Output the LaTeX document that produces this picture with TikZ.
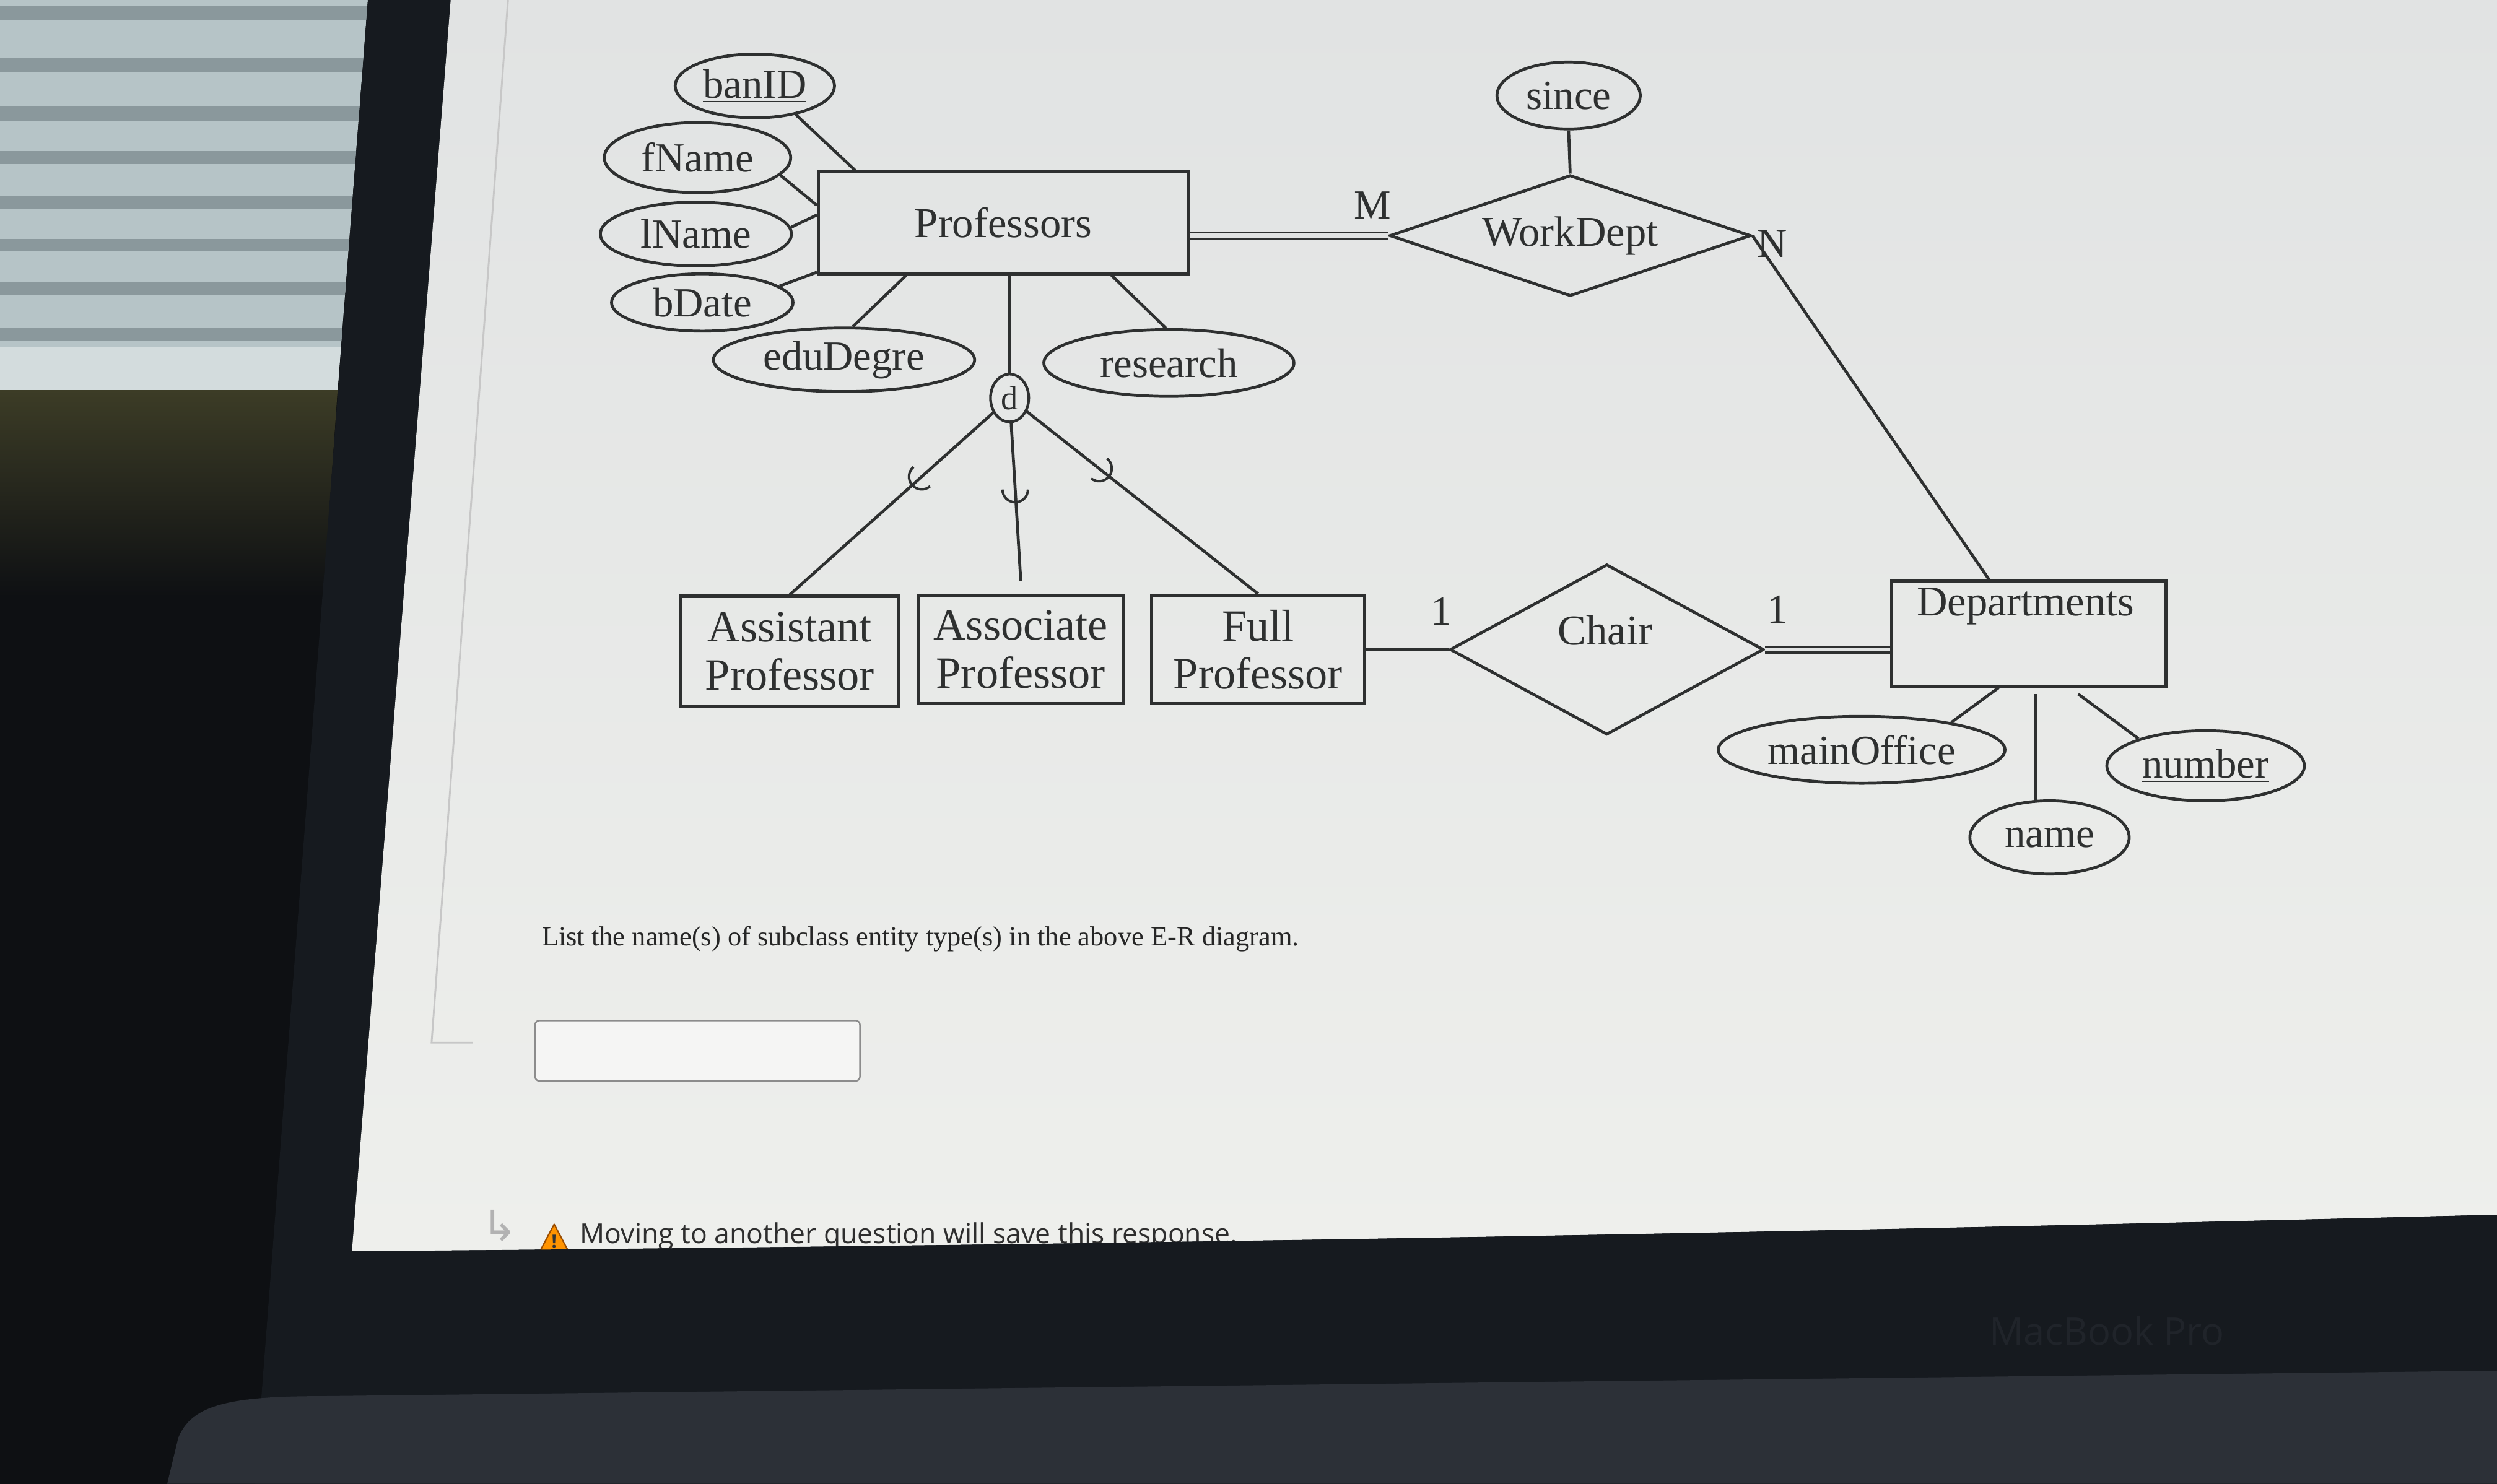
\documentclass[tikz,border=0pt]{standalone}
\usepackage{fontspec}
\setmainfont{Liberation Serif}
\newfontfamily\questionfont{Liberation Serif}
\newfontfamily\notefont{Open Sans}
\newfontfamily\symbolfont{DejaVu Sans}
\usetikzlibrary{arrows.meta,shapes.geometric,calc}

\definecolor{ink}{RGB}{46,48,48}
\definecolor{bezel}{RGB}{22,26,31}
\definecolor{roomdark}{RGB}{14,16,19}
\definecolor{screentop}{RGB}{225,227,227}
\definecolor{screenbot}{RGB}{238,239,236}
\definecolor{blindlight}{RGB}{182,196,199}
\definecolor{blinddark}{RGB}{138,152,156}
\definecolor{olive}{RGB}{60,60,38}
\definecolor{laptop}{RGB}{44,48,55}
\definecolor{brandgray}{RGB}{32,36,42}

\tikzset{
  entity/.style={rectangle, draw=ink, line width=1.4pt, inner sep=0pt, text=ink, align=center, font=\fontsize{19}{22}\selectfont},
  attrib/.style={ellipse, draw=ink, line width=1.3pt, inner sep=0pt, text=ink, font=\fontsize{18.5}{21}\selectfont},
  relship/.style={diamond, draw=ink, line width=1.3pt, inner sep=0pt, text=ink, font=\fontsize{19}{22}\selectfont},
  cardlabel/.style={inner sep=0pt, text=ink, font=\fontsize{18.5}{21}\selectfont},
  subclass/.style={entity, font=\fontsize{20}{21.5}\selectfont},
  link/.style={draw=ink, line width=1.3pt},
  total/.style={draw=ink, line width=0.9pt, double=screentop, double distance=1.8pt},
}

\begin{document}
\begin{tikzpicture}[x=0.025cm,y=-0.025cm]
\useasboundingbox (0,0) rectangle (1568,932);

% room, blinds and laptop frame
\fill[roomdark] (0,0) rectangle (1568,932);
\shade[top color=olive, bottom color=roomdark] (0,245) -- (212,245) -- (203,375) -- (0,375) -- cycle;
\begin{scope}
\clip (0,0) -- (231,0) -- (212,245) -- (0,245) -- cycle;
\fill[blindlight] (0,0) rectangle (240,245);
\fill[blinddark] (0,4) rectangle (240,13);
\fill[blinddark] (0,36) rectangle (240,45);
\fill[blinddark] (0,67) rectangle (240,76);
\fill[blinddark] (0,95) rectangle (240,103);
\fill[blinddark] (0,123) rectangle (240,131);
\fill[blinddark] (0,150) rectangle (240,158);
\fill[blinddark] (0,177) rectangle (240,185);
\fill[blinddark] (0,206) rectangle (240,214);
\fill[blindlight!60!white] (0,218) rectangle (240,245);
\end{scope}
\fill[bezel] (231,0) -- (1568,0) -- (1568,932) -- (160,932) -- cycle;
\shade[top color=screentop, bottom color=screenbot] (283,0) -- (1568,0) -- (1568,763)
  .. controls (1100,775) and (700,782) .. (221,786) -- cycle;
\draw[black!22, line width=0.8pt] (319,0) -- (271,655) -- (297,655);

% entities
\node[entity, minimum width=5.8cm, minimum height=1.6cm] (prof) at (630,140) {Professors};
\node[subclass, minimum width=3.425cm, minimum height=1.725cm] (asst) at (496,409) {Assistant\\Professor};
\node[subclass, minimum width=3.225cm, minimum height=1.7cm] (assoc) at (641,408) {Associate\\Professor};
\node[subclass, minimum width=3.35cm, minimum height=1.7cm] (full) at (790,408) {Full\\Professor};
\node[entity, minimum width=4.3cm, minimum height=1.65cm] (dept) at (1274,398) {};
\node[cardlabel, font=\fontsize{19}{22}\selectfont] (deptname) at (1272,381) {Departments};

% relationships
\node[relship, shape aspect=3, minimum width=5.675cm, minimum height=1.9cm] (works) at (986,148) {WorkDept};
\node[relship, shape aspect=2, minimum width=4.925cm, minimum height=2.675cm] (chair) at (1009,408) {};
\node[cardlabel, font=\fontsize{19}{22}\selectfont] (chairname) at (1008,396) {Chair};

% attributes
\node[attrib, minimum width=2.5cm, minimum height=1cm] (banid) at (474,54) {\underline{banID}};
\node[attrib, minimum width=2.925cm, minimum height=1.1cm] (fname) at (438,99) {fName};
\node[attrib, minimum width=3cm, minimum height=1cm] (lname) at (437,147) {lName};
\node[attrib, minimum width=2.85cm, minimum height=0.9cm] (bdate) at (441,190) {bDate};
\node[attrib, minimum width=4.1cm, minimum height=1cm] (edu) at (530,226) {eduDegre};
\node[attrib, minimum width=3.925cm, minimum height=1.05cm] (research) at (734,228) {research};
\node[attrib, minimum width=2.25cm, minimum height=1.05cm] (since) at (985,60) {since};
\node[attrib, minimum width=4.5cm, minimum height=1.05cm] (office) at (1169,471) {mainOffice};
\node[attrib, minimum width=2.5cm, minimum height=1.15cm] (dname) at (1287,526) {name};
\node[attrib, minimum width=3.1cm, minimum height=1.1cm] (number) at (1385,481) {\underline{number}};
\node[ellipse, draw=ink, line width=1.2pt, inner sep=0pt, minimum width=0.6cm, minimum height=0.75cm,
  text=ink, font=\fontsize{15}{17}\selectfont] (disj) at (634,250) {d};

% attribute links
\draw[link] (banid.-35) -- ([xshift=0.6cm]prof.north west);
\draw[link] (fname.-12) -- ([yshift=-0.55cm]prof.north west);
\draw[link] (lname.4) -- ([yshift=-0.7cm]prof.north west);
\draw[link] (bdate.12) -- ([yshift=0.05cm]prof.south west);
\draw[link] (edu.75) -- ([xshift=1.4cm]prof.south west);
\draw[link] (research.95) -- ([xshift=-1.225cm]prof.south east);
\draw[link] (since.south) -- (works.north);
\draw[link] (office.17) -- ([xshift=1.7cm]dept.south west);
\draw[link] (dname.110) -- ($(dname.110 |- dept.south)+(0,4)$);
\draw[link] (number.158) -- ($(dept.south east)+(-56,4)$);

% relationship links
\draw[total] (prof.east |- works.west) -- (works.west);
\draw[link] (works.east) -- ([xshift=-0.625cm]dept.north);
\draw[link] (full.east) -- (chair.west);
\draw[total] (chair.east) -- (chair.east -| dept.west);
\node[cardlabel] (mlabel) at (862,129) {M};
\node[cardlabel] (nlabel) at (1113,153) {N};
\node[cardlabel] (onefull) at (905,384) {1};
\node[cardlabel] (onedept) at (1116,383) {1};

% specialization
\draw[link] (disj.north) -- (disj.north |- prof.south);
\draw[link] (disj) -- (asst.north);
\draw[link] (disj) -- ([yshift=0.2cm]assoc.north);
\draw[link] (disj) -- (full.north);
\path (disj.center) -- (asst.north) coordinate[pos=0.4] (hookasst);
\path (disj.center) -- ([yshift=0.2cm]assoc.north) coordinate[pos=0.5] (hookassoc);
\path (disj.center) -- (full.north) coordinate[pos=0.36] (hookfull);
\draw[link, line width=1.1pt] ([shift={(131:0.2cm)}]hookasst) arc[start angle=131, delta angle=180, radius=0.2cm];
\draw[link, line width=1.1pt] ([shift={(180:0.2cm)}]hookassoc) arc[start angle=180, delta angle=180, radius=0.2cm];
\draw[link, line width=1.1pt] ([shift={(232:0.2cm)}]hookfull) arc[start angle=232, delta angle=180, radius=0.2cm];

% question text and answer box
\node[anchor=base west, inner sep=0pt, text=black!85, font=\questionfont\fontsize{12.3}{14}\selectfont] (question)
  at (340,594) {List the name(s) of subclass entity type(s) in the above E-R diagram.};
\node[draw=black!45, rounded corners=2pt, line width=0.7pt, fill=screenbot!60!white,
  minimum width=5.1cm, minimum height=0.95cm] (answer) at (438,660) {};
\node[inner sep=0pt, text=black!30, font=\symbolfont\fontsize{19}{21}\selectfont] (returnmark) at (314,770) {↳};
\filldraw[fill=orange!85!yellow, draw=orange!60!black, line width=0.6pt, line join=round]
  (348,769) -- (357,786) -- (339,786) -- cycle;
\node[inner sep=0pt, text=black!80, font=\notefont\bfseries\fontsize{8}{9}\selectfont] (warnmark) at (348,780) {!};
\node[anchor=base west, inner sep=0pt, text=black!82, font=\notefont\fontsize{12.3}{14}\selectfont] (note)
  at (364,781) {Moving to another question will save this response.};

% lower bezel and laptop body
\fill[bezel] (190,790) -- (221,786) .. controls (700,782) and (1100,775) .. (1568,763)
  -- (1568,880) -- (190,880) -- cycle;
\fill[laptop] (105,932) -- (112,903) .. controls (120,884) and (140,877) .. (200,877)
  -- (1568,861) -- (1568,932) -- cycle;
\node[text=brandgray, font=\notefont\fontsize{17}{19}\selectfont] (brand) at (1323,836) {MacBook Pro};
\end{tikzpicture}
\end{document}
